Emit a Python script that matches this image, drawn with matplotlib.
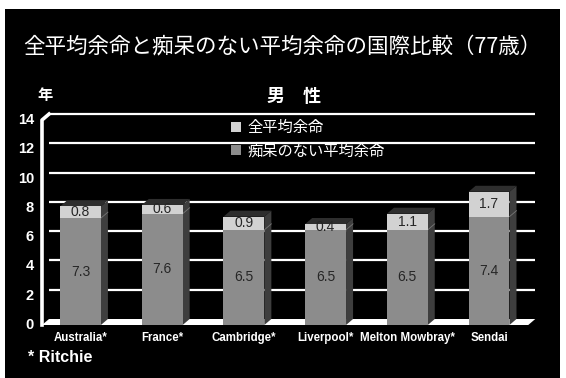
import matplotlib.pyplot as plt
from matplotlib.patches import Polygon, Rectangle

# data: remaining life expectancy at age 77, men
cities = ['Australia*', 'France*', 'Cambridge*', 'Liverpool*', 'Melton Mowbray*', 'Sendai']
dementia_free = [7.3, 7.6, 6.5, 6.5, 6.5, 7.4]
with_dementia = [0.8, 0.6, 0.9, 0.4, 1.1, 1.7]
yticks = [0, 2, 4, 6, 8, 10, 12, 14]

title = '全平均余命と痴呆のない平均余命の国際比較（77歳）'
series_labels = ['全平均余命', '痴呆のない平均余命']

JP = ['Noto Sans CJK JP', 'DejaVu Sans']
EN = 'Liberation Sans'

c_low = '#8c8c8c'
c_high = '#d2d2d2'
c_side = '#3e3e3e'
c_top = '#2e2e2e'

fig = plt.figure(figsize=(5.66, 3.78), dpi=100)
fig.patch.set_facecolor('white')
fig.patches.append(Rectangle((5 / 566, 0), 555 / 566, 369 / 378, transform=fig.transFigure,
                             facecolor='black', edgecolor='none', zorder=-5))

ax = fig.add_axes([0, 0, 1, 1])
ax.set_facecolor('none')
ax.set_xlim(-0.985, 5.942)
ax.set_ylim(-3.62, 22.2)
ax.axis('off')

w = 0.5      # bar width
dx = 0.086   # depth offset (x)
dy = 0.41    # depth offset (y)
wall = -0.471
right = 5.48

x = list(range(len(cities)))
totals = [a + b for a, b in zip(dementia_free, with_dementia)]

# floor and back grid lines
ax.add_patch(Polygon([(wall, 0), (wall + dx, dy), (right + dx, dy), (right, 0)],
                     closed=True, facecolor='white', edgecolor='none', zorder=1))
for v in yticks[1:]:
    ax.plot([wall + dx, right + dx], [v + dy, v + dy], color='white', lw=1.6, zorder=1,
            solid_capstyle='butt')
ax.plot([wall, wall, wall + dx], [0, 14, 14 + dy], color='white', lw=2.6, zorder=1)

# bars: front faces
b_low = ax.bar(x, dementia_free, width=w, color=c_low, zorder=3, label=series_labels[1])
b_high = ax.bar(x, with_dementia, bottom=dementia_free, width=w, color=c_high, zorder=3,
                label=series_labels[0])

# side and top faces
for xi, t, lo in zip(x, totals, dementia_free):
    xr = xi + w / 2
    xl = xi - w / 2
    ax.add_patch(Polygon([(xr, 0), (xr + dx, dy), (xr + dx, t + dy), (xr, t)],
                         closed=True, facecolor=c_side, edgecolor='none', zorder=2.5))
    ax.add_patch(Polygon([(xl, t), (xl + dx, t + dy), (xr + dx, t + dy), (xr, t)],
                         closed=True, facecolor=c_top, edgecolor='none', zorder=2.5))
    ax.plot([xr, xr + dx], [lo, lo + dy], color='#777777', lw=0.6, zorder=2.6)

# value labels
for xi, lo, hi in zip(x, dementia_free, with_dementia):
    ax.text(xi, lo / 2, f'{lo:.1f}', ha='center', va='center', fontsize=10,
            family=EN, color='#262626', zorder=4)
    ax.text(xi, lo + hi / 2, f'{hi:.1f}', ha='center', va='center', fontsize=10,
            family=EN, color='#262626', zorder=4)

# y tick labels
for v in yticks:
    ax.text(-0.57, v, str(v), ha='right', va='center', fontsize=10.5, fontweight='bold',
            family=EN, color='white')

# category labels
for xi, name in zip(x, cities):
    ax.text(xi, -0.89, name, ha='center', va='center', fontsize=8.3, fontweight='bold',
            family=EN, color='white')

ax.legend(handles=[b_high, b_low], labels=series_labels, loc='upper left',
          bbox_to_anchor=(231 / 566, 1 - 119 / 378), bbox_transform=fig.transFigure,
          frameon=False, prop={'family': JP, 'size': 11}, labelcolor='white',
          handlelength=0.65, handleheight=0.65, handletextpad=0.45, labelspacing=0.4,
          borderpad=0, borderaxespad=0)

fig.text(282 / 566, 1 - 47 / 378, title, ha='center', va='center', fontsize=15.5,
         family=JP, color='white')
fig.text(45 / 566, 1 - 95 / 378, '年', ha='center', va='center', fontsize=11,
         fontweight='bold', family=JP, color='white')
fig.text(294 / 566, 1 - 96 / 378, '男\u3000性', ha='center', va='center', fontsize=13,
         fontweight='bold', family=JP, color='white')
fig.text(28 / 566, 1 - 358 / 378, '* Ritchie', ha='left', va='center', fontsize=11.5,
         fontweight='bold', family=EN, color='white')

fig.savefig('out.png', dpi=100, facecolor=fig.get_facecolor())
